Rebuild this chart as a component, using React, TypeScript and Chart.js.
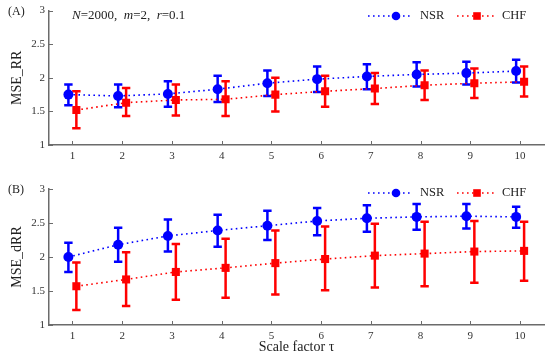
import React, { useEffect, useRef } from 'react';
import { Chart, registerables } from 'chart.js';

Chart.register(...registerables);

// ---------- data ----------
const TAU = [1, 2, 3, 4, 5, 6, 7, 8, 9, 10];
const Y_TICKS = [1, 1.5, 2, 2.5, 3];

// Panel A: MSE_RR
const A_NSR_MEAN = [1.75, 1.73, 1.76, 1.83, 1.92, 1.98, 2.02, 2.05, 2.07, 2.1];
const A_NSR_LOW = [1.59, 1.56, 1.57, 1.64, 1.73, 1.79, 1.83, 1.87, 1.9, 1.93];
const A_NSR_HIGH = [1.9, 1.9, 1.95, 2.03, 2.11, 2.17, 2.2, 2.23, 2.24, 2.27];
const A_CHF_MEAN = [1.52, 1.63, 1.67, 1.68, 1.75, 1.8, 1.84, 1.89, 1.92, 1.94];
const A_CHF_LOW = [1.25, 1.43, 1.44, 1.43, 1.5, 1.57, 1.61, 1.67, 1.7, 1.72];
const A_CHF_HIGH = [1.8, 1.85, 1.9, 1.95, 2.0, 2.03, 2.07, 2.11, 2.14, 2.17];

// Panel B: MSE_dRR
const B_NSR_MEAN = [2.0, 2.18, 2.31, 2.39, 2.46, 2.53, 2.57, 2.59, 2.6, 2.59];
const B_NSR_LOW = [1.78, 1.93, 2.08, 2.15, 2.25, 2.32, 2.37, 2.4, 2.42, 2.43];
const B_NSR_HIGH = [2.21, 2.43, 2.55, 2.62, 2.68, 2.72, 2.76, 2.78, 2.78, 2.74];
const B_CHF_MEAN = [1.57, 1.67, 1.78, 1.84, 1.91, 1.97, 2.02, 2.05, 2.08, 2.09];
const B_CHF_LOW = [1.22, 1.28, 1.37, 1.4, 1.45, 1.51, 1.55, 1.57, 1.62, 1.65];
const B_CHF_HIGH = [1.92, 2.07, 2.19, 2.27, 2.39, 2.45, 2.49, 2.52, 2.53, 2.52];

const SERIES_NAMES = ['NSR', 'CHF'];
const BLUE = '#0000ff';
const RED = '#ff0000';
const X_SHIFT = 0.08;
const SERIF = '"Liberation Serif", "DejaVu Serif", serif';
const AXIS_COLOR = '#6b6b6b';
const DOT_DASH = [1.6, 3.4];

const errorBarPlugin = {
  id: 'errorBars',
  beforeDatasetsDraw(chart: any) {
    const { ctx, scales } = chart;
    const xs = scales.x;
    const ys = scales.y;
    chart.data.datasets.forEach((ds: any) => {
      ctx.save();
      ctx.strokeStyle = ds.borderColor;
      ctx.lineWidth = 2.5;
      ctx.setLineDash([]);
      ds.data.forEach((p: any, i: number) => {
        const px = xs.getPixelForValue(p.x);
        const yl = ys.getPixelForValue(ds.errLow[i]);
        const yh = ys.getPixelForValue(ds.errHigh[i]);
        ctx.beginPath();
        ctx.moveTo(px, yl);
        ctx.lineTo(px, yh);
        ctx.moveTo(px - 4.2, yl);
        ctx.lineTo(px + 4.2, yl);
        ctx.moveTo(px - 4.2, yh);
        ctx.lineTo(px + 4.2, yh);
        ctx.stroke();
      });
      ctx.restore();
    });
  },
};

const decoPlugin = {
  id: 'deco',
  afterDraw(chart: any, _args: any, opts: any) {
    const { ctx, scales, chartArea } = chart;
    const xs = scales.x;
    const ys = scales.y;
    ctx.save();
    // inward ticks
    ctx.strokeStyle = AXIS_COLOR;
    ctx.lineWidth = 1;
    ctx.setLineDash([]);
    ctx.beginPath();
    TAU.forEach((t) => {
      const px = Math.round(xs.getPixelForValue(t)) + 0.5;
      ctx.moveTo(px, chartArea.bottom);
      ctx.lineTo(px, chartArea.bottom - 4);
    });
    Y_TICKS.forEach((v) => {
      const py = Math.round(ys.getPixelForValue(v)) + 0.5;
      ctx.moveTo(chartArea.left, py);
      ctx.lineTo(chartArea.left + 4, py);
    });
    ctx.stroke();

    // panel label
    ctx.fillStyle = '#222';
    ctx.textBaseline = 'middle';
    ctx.textAlign = 'left';
    ctx.font = `12px ${SERIF}`;
    ctx.fillText(opts.label, 8, opts.labelY);

    // annotation
    if (opts.note) {
      const parts: [string, boolean][] = [
        ['N', true], ['=2000,  ', false], ['m', true], ['=2,  ', false], ['r', true], ['=0.1', false],
      ];
      let x = 72;
      parts.forEach(([s, it]) => {
        ctx.font = `${it ? 'italic ' : ''}13px ${SERIF}`;
        ctx.fillText(s, x, opts.legendY);
        x += ctx.measureText(s).width;
      });
    }

    // legend
    const items = [
      { name: SERIES_NAMES[0], color: BLUE, x0: 368, x1: 411, mx: 396, style: 'circle', tx: 420 },
      { name: SERIES_NAMES[1], color: RED, x0: 457, x1: 494, mx: 477, style: 'rect', tx: 502 },
    ];
    const ly = opts.legendY;
    items.forEach((it) => {
      ctx.strokeStyle = it.color;
      ctx.lineWidth = 1.6;
      ctx.setLineDash(DOT_DASH);
      ctx.beginPath();
      ctx.moveTo(it.x0, ly);
      ctx.lineTo(it.x1, ly);
      ctx.stroke();
      ctx.setLineDash([]);
      ctx.fillStyle = it.color;
      if (it.style === 'circle') {
        ctx.beginPath();
        ctx.arc(it.mx, ly, 4.3, 0, Math.PI * 2);
        ctx.fill();
      } else {
        ctx.fillRect(it.mx - 3.8, ly - 3.8, 7.6, 7.6);
      }
      ctx.fillStyle = '#222';
      ctx.font = `12.5px ${SERIF}`;
      ctx.fillText(it.name, it.tx, ly);
    });
    ctx.restore();
  },
};

function makeConfig(p: {
  nsrMean: number[]; nsrLow: number[]; nsrHigh: number[];
  chfMean: number[]; chfLow: number[]; chfHigh: number[];
  yTitle: string; padTop: number; xHeight: number; showXTitle: boolean;
  label: string; labelY: number; legendY: number; note: boolean;
}) {
  const mk = (name: string, color: string, shift: number, mean: number[], lo: number[], hi: number[], style: string, radius: number) => ({
    label: name,
    data: TAU.map((t, i) => ({ x: t + shift, y: mean[i] })),
    errLow: lo,
    errHigh: hi,
    borderColor: color,
    backgroundColor: color,
    borderWidth: 1.6,
    borderDash: DOT_DASH,
    pointStyle: style,
    pointRadius: radius,
    pointBorderWidth: 0,
    pointHoverRadius: radius,
    showLine: true,
    fill: false,
    tension: 0,
  });
  return {
    type: 'line' as const,
    data: {
      datasets: [
        mk(SERIES_NAMES[0], BLUE, -X_SHIFT, p.nsrMean, p.nsrLow, p.nsrHigh, 'circle', 5),
        mk(SERIES_NAMES[1], RED, X_SHIFT, p.chfMean, p.chfLow, p.chfHigh, 'rect', 5.7),
      ],
    },
    options: {
      animation: false,
      responsive: false,
      maintainAspectRatio: false,
      events: [],
      layout: { padding: { top: p.padTop, right: 6, left: 0, bottom: 0 } },
      plugins: {
        legend: { display: false },
        tooltip: { enabled: false },
        deco: { label: p.label, labelY: p.labelY, legendY: p.legendY, note: p.note },
      },
      scales: {
        x: {
          type: 'linear',
          min: 0.53,
          max: 10.48,
          afterBuildTicks: (s: any) => {
            s.ticks = TAU.map((v) => ({ value: v }));
          },
          afterFit: (s: any) => {
            s.height = p.xHeight;
          },
          grid: { display: false, drawTicks: false },
          border: { display: true, color: AXIS_COLOR, width: 1.5 },
          ticks: {
            padding: 5,
            color: '#333',
            font: { family: SERIF, size: 11 },
            maxRotation: 0,
            autoSkip: false,
            callback: (v: any) => String(v),
          },
          title: {
            display: p.showXTitle,
            text: 'Scale factor τ',
            color: '#222',
            font: { family: SERIF, size: 14 },
            padding: { top: 0, bottom: 2 },
          },
        },
        y: {
          min: 1,
          max: 3,
          afterBuildTicks: (s: any) => {
            s.ticks = Y_TICKS.map((v) => ({ value: v }));
          },
          afterFit: (s: any) => {
            s.width = 49;
          },
          grid: { display: false, drawTicks: false },
          border: { display: true, color: AXIS_COLOR, width: 1.5 },
          ticks: {
            padding: 4,
            color: '#333',
            font: { family: SERIF, size: 11 },
            callback: (v: any) => String(v),
          },
          title: {
            display: true,
            text: p.yTitle,
            color: '#222',
            font: { family: SERIF, size: 14 },
            padding: { top: 9, bottom: 0 },
          },
        },
      },
    },
    plugins: [errorBarPlugin, decoPlugin],
  };
}

export default function App() {
  const refA = useRef<HTMLCanvasElement>(null);
  const refB = useRef<HTMLCanvasElement>(null);

  useEffect(() => {
    document.body.style.margin = '0';
    const a = new Chart(refA.current as HTMLCanvasElement, makeConfig({
      nsrMean: A_NSR_MEAN, nsrLow: A_NSR_LOW, nsrHigh: A_NSR_HIGH,
      chfMean: A_CHF_MEAN, chfLow: A_CHF_LOW, chfHigh: A_CHF_HIGH,
      yTitle: 'MSE_RR', padTop: 10, xHeight: 25, showXTitle: false,
      label: '(A)', labelY: 12, legendY: 16, note: true,
    }) as any);
    const b = new Chart(refB.current as HTMLCanvasElement, makeConfig({
      nsrMean: B_NSR_MEAN, nsrLow: B_NSR_LOW, nsrHigh: B_NSR_HIGH,
      chfMean: B_CHF_MEAN, chfLow: B_CHF_LOW, chfHigh: B_CHF_HIGH,
      yTitle: 'MSE_dRR', padTop: 19, xHeight: 33, showXTitle: true,
      label: '(B)', labelY: 20, legendY: 23, note: false,
    }) as any);
    return () => {
      a.destroy();
      b.destroy();
    };
  }, []);

  return (
    <div style={{ position: 'absolute', left: 0, top: 0, width: 550, height: 358, background: '#fff' }}>
      <canvas ref={refA} width={550} height={170} style={{ position: 'absolute', left: 0, top: 0, width: 550, height: 170 }} />
      <canvas ref={refB} width={550} height={188} style={{ position: 'absolute', left: 0, top: 170, width: 550, height: 188 }} />
    </div>
  );
}
